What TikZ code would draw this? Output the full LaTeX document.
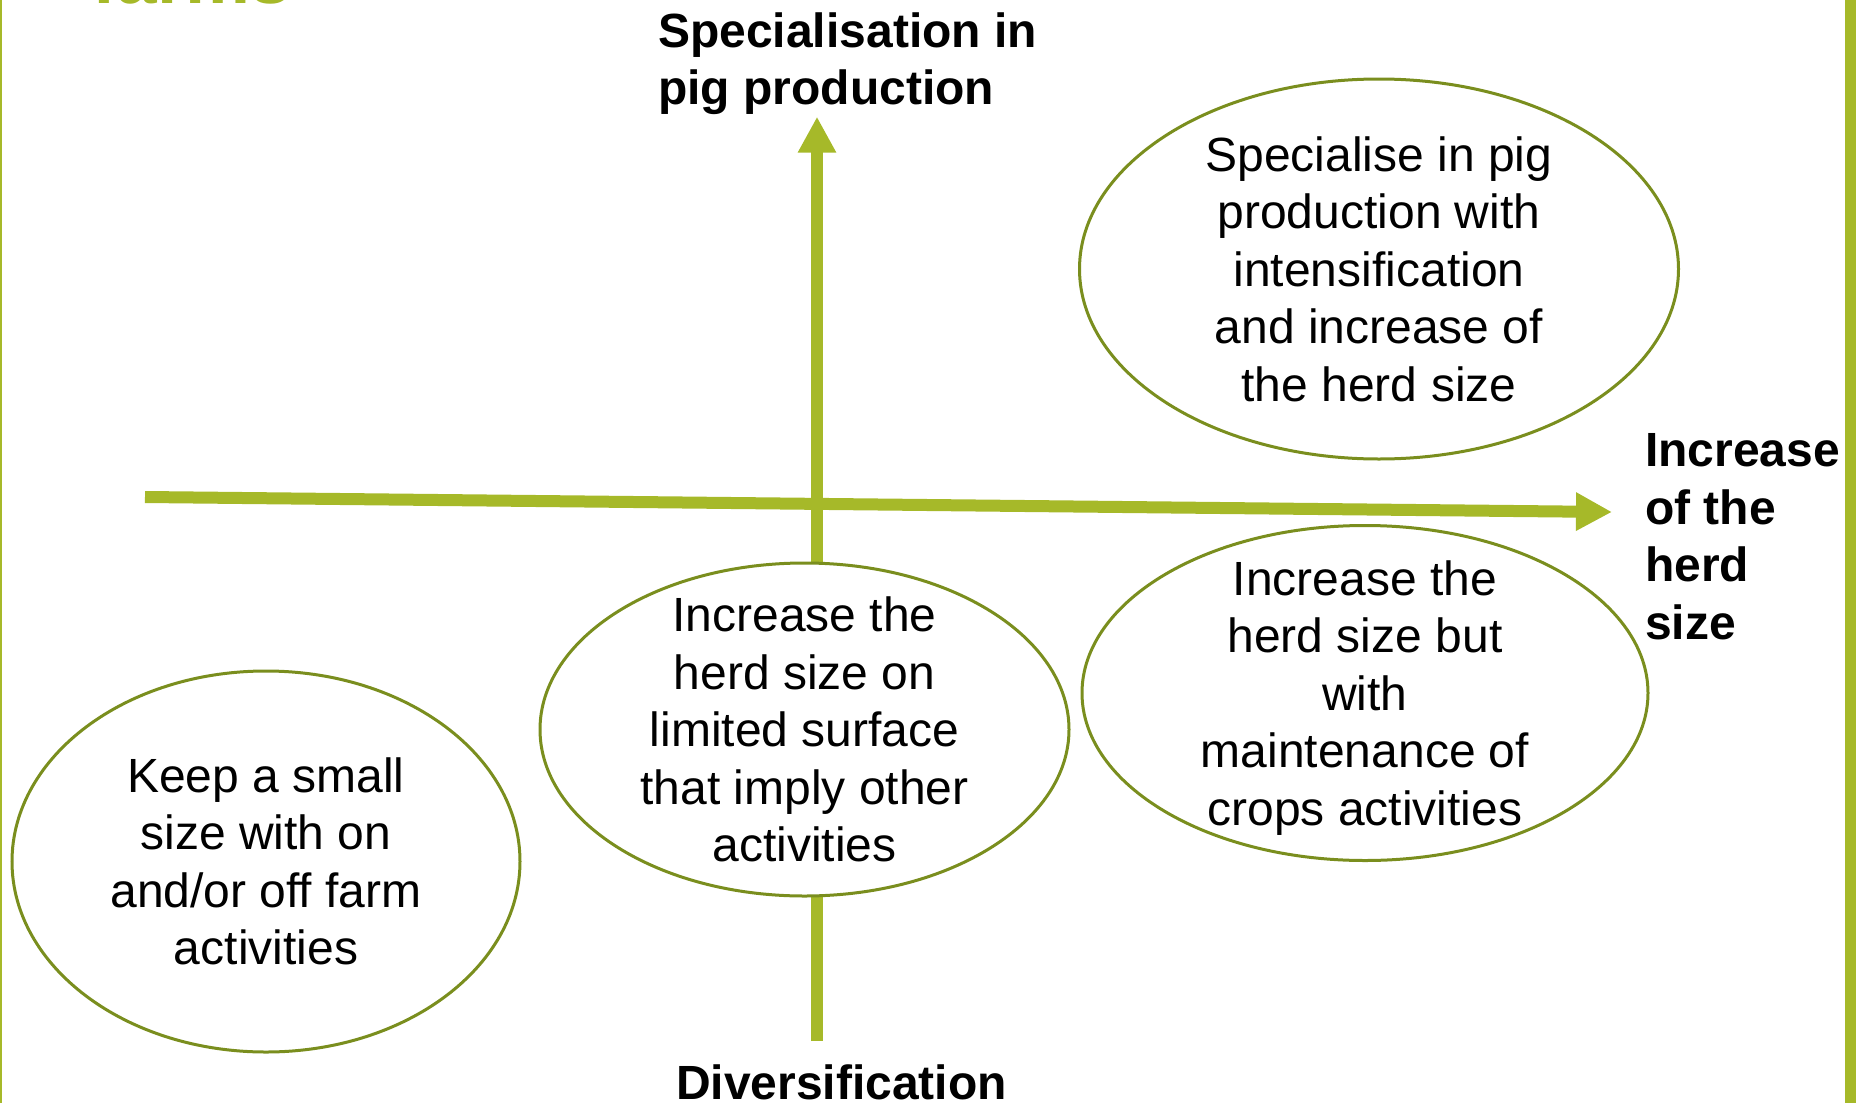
\documentclass[tikz,border=0pt]{standalone}
\usepackage{fontspec}
\setmainfont{Liberation Sans}
\usetikzlibrary{arrows.meta,shapes.geometric}
\definecolor{axisgreen}{RGB}{166,185,41}
\definecolor{ellolive}{RGB}{122,142,30}
\begin{document}
\begin{tikzpicture}[x=1pt,y=-1pt,
  axisline/.style={draw=axisgreen,line width=12pt},
  axisarrow/.style={axisline,-{Triangle[length=36pt,width=36pt]}},
  ell/.style={ellipse,draw=ellolive,line width=3pt,fill=white,inner sep=0pt},
  etext/.style={align=center,inner sep=0pt,font=\fontsize{48}{57.5}\selectfont},
  alabel/.style={align=left,inner sep=0pt,font=\fontsize{48}{57.5}\selectfont\bfseries},
  bar/.style={fill=axisgreen,draw=none}]
\useasboundingbox (0,0) rectangle (1856,1103);
\clip (0,0) rectangle (1856,1103);

% frame bars
\fill[bar] (0,0) rectangle (1.6,1103);
\fill[bar] (1845,0) rectangle (1856,1103);

% clipped title fragment
\node[anchor=base west,inner sep=0pt,text=axisgreen,font=\fontsize{73}{80}\selectfont\bfseries] (title) at (92,3) {farms};

% axes
\coordinate (vbot) at (817,1041);
\coordinate (vtop) at (817,116.7);
\coordinate (hleft) at (145,497);
\coordinate (hright) at (1612,512);
\draw[axisarrow] (vbot) -- (vtop);
\draw[axisarrow] (hleft) -- (hright);

% ellipses
\node[ell,minimum width=599pt,minimum height=380pt] (e1) at (1379,269) {};
\node[ell,minimum width=566pt,minimum height=335pt] (e2) at (1365,693) {};
\node[ell,minimum width=529pt,minimum height=333pt] (e3) at (804.5,729.5) {};
\node[ell,minimum width=508pt,minimum height=381pt] (e4) at (266,861.5) {};

% ellipse texts
\node[etext] (t1) at (e1.center) {Specialise in pig\\production with\\intensification\\and increase of\\the herd size};
\node[etext,yshift=-5pt] (t2) at (e2.center) {Increase the\\herd size but\\with\\maintenance of\\crops activities};
\node[etext] (t3) at (e3.center) {Increase the\\herd size on\\limited surface\\that imply other\\activities};
\node[etext] (t4) at (e4.center) {Keep a small\\size with on\\and/or off farm\\activities};

% axis labels
\node[alabel,anchor=north west] (ly) at (658,12.5) {Specialisation in\\pig production};
\node[alabel,anchor=north west] (lx) at (1645,433.5) {Increase\\of the\\herd\\size};
\node[anchor=base west,inner sep=0pt,font=\fontsize{48}{57.5}\selectfont\bfseries] (ld) at (676,1099) {Diversification};
\end{tikzpicture}
\end{document}
